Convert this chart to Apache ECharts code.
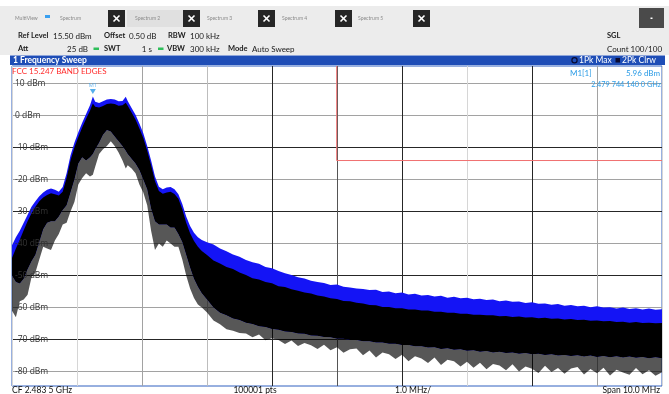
<!DOCTYPE html>
<html>
<head>
<meta charset="utf-8">
<script src="https://cdn.jsdelivr.net/npm/echarts@6/dist/echarts.min.js"></script>
<style>
  html, body { margin: 0; padding: 0; background: #ffffff; }
  #chart { width: 669px; height: 394px; }
</style>
</head>
<body>
<div id="chart"></div>
<script>
// Frequency offset from the centre frequency (2.4835 GHz), in MHz
const offsetMHz = [
  -5.00, -4.94, -4.88, -4.82, -4.76, -4.70, -4.64, -4.58, -4.52, -4.46,
  -4.40, -4.34, -4.28, -4.22, -4.16, -4.10, -4.04, -3.98, -3.92, -3.86,
  -3.80, -3.75586, -3.72, -3.66, -3.60, -3.54, -3.48, -3.42, -3.36, -3.30,
  -3.25, -3.22, -3.16, -3.10, -3.04, -2.98, -2.92, -2.86, -2.80, -2.74,
  -2.68, -2.62, -2.56, -2.50, -2.44, -2.38, -2.32, -2.26, -2.20, -2.14,
  -2.08,
  -2.0, -1.9, -1.8, -1.7, -1.6, -1.5, -1.4, -1.3, -1.2, -1.1,
  -1.0, -0.9, -0.8, -0.7, -0.6, -0.5, -0.4, -0.3, -0.2, -0.1,
  0.0, 0.1, 0.2, 0.3, 0.4, 0.5, 0.6, 0.7, 0.8, 0.9,
  1.0, 1.1, 1.2, 1.3, 1.4, 1.5, 1.6, 1.7, 1.8, 1.9,
  2.0, 2.1, 2.2, 2.3, 2.4, 2.5, 2.6, 2.7, 2.8, 2.9,
  3.0, 3.1, 3.2, 3.3, 3.4, 3.5, 3.6, 3.7, 3.8, 3.9,
  4.0, 4.1, 4.2, 4.3, 4.4, 4.5, 4.6, 4.7, 4.8, 4.9,
  5.0
];

// Trace 1 (1Pk Max): upper edge, dBm
const maxHoldTop = [
  -40.5, -38, -36, -33.5, -31, -28.5, -26.8, -25.2, -24, -23.2,
  -22.8, -23.2, -23.8, -22.3, -18, -12.5, -8.5, -5.2, -2.2, 0.5,
  3.2, 5.96, 4.3, 3.9, 4.5, 5.0, 5.2, 5.0, 4.5, 4.6,
  5.9, 4.6, 2.4, 0.3, -2.5, -5.5, -9.5, -14, -19, -22.2,
  -23, -22.5, -22.3, -23, -24.6, -27.6, -31.5, -34.5, -36.6, -38,
  -38.9,
  -39.6, -40.3, -41.5, -42.4, -43.4, -44.1, -45.1, -45.8, -46.3, -47.3,
  -47.7, -48.6, -49.3, -49.8, -50.5, -50.9, -51.6, -52.0, -52.3, -52.9,
  -52.8, -53.5, -53.7, -54.0, -54.2, -54.5, -54.4, -55.1, -55.0, -55.5,
  -55.3, -55.9, -55.7, -56.2, -56.1, -56.5, -56.3, -56.9, -56.6, -57.1,
  -56.9, -57.4, -57.2, -57.6, -57.5, -58.0, -57.8, -58.2, -58.1, -58.6,
  -58.3, -58.8, -58.7, -59.1, -58.9, -59.4, -59.2, -59.6, -59.4, -59.9,
  -59.6, -60.0, -59.9, -60.3, -60.0, -60.4, -60.2, -60.6, -60.3, -60.7,
  -60.5
];

// Trace 2 (2Pk Clrw): upper edge of the dense sweep, dBm
const clrwTop = [
  -44.5, -41.5, -38.8, -35.8, -33, -30.5, -28.5, -26.8, -25.6, -24.8,
  -24.3, -24.6, -25, -23.8, -19.5, -14, -10, -6.7, -3.7, -1,
  1.5, 3.8, 2.8, 2.5, 3.0, 3.6, 3.8, 3.6, 3.1, 3.2,
  4.0, 3.1, 1.0, -1.2, -4, -7, -11, -15.5, -20.5, -23.6,
  -24.4, -24, -23.8, -24.5, -26, -29.3, -33.5, -36.8, -39.2, -41,
  -42.3,
  -43.6, -45.3, -46.2, -47.3, -47.9, -49.0, -49.8, -50.8, -51.2, -52.0,
  -52.4, -53.3, -53.6, -54.3, -54.7, -55.3, -55.6, -56.2, -56.5, -57.1,
  -57.3, -57.9, -58.0, -58.5, -58.7, -59.2, -59.3, -59.8, -59.8, -60.2,
  -60.2, -60.6, -60.6, -60.9, -60.9, -61.3, -61.3, -61.6, -61.6, -61.9,
  -61.9, -62.2, -62.2, -62.4, -62.4, -62.7, -62.6, -62.9, -62.8, -63.1,
  -63.0, -63.3, -63.2, -63.5, -63.4, -63.7, -63.6, -63.9, -63.8, -64.1,
  -64.0, -64.3, -64.2, -64.5, -64.4, -64.7, -64.5, -64.8, -64.7, -64.9,
  -64.8
];

// Trace 2: lower edge of the solid part of the sweep, dBm
const clrwFloor = [
  -50, -52, -52.5, -51, -48, -45.5, -43.5, -39.5, -35.5, -33.5,
  -33, -33, -31.5, -29.5, -28, -24, -20, -15, -13, -14,
  -13, -12, -10.5, -8.5, -6, -4.5, -5, -6.5, -8, -9.5,
  -11, -12, -13.5, -15, -17, -20, -23, -29, -33, -34,
  -34, -34, -35, -35, -37, -39.5, -43.5, -47.5, -51, -53.5,
  -55.5,
  -57.5, -60, -61.6, -62.4, -63.4, -63.9, -64.7, -65.1, -65.8, -66.1,
  -66.7, -66.9, -67.5, -67.6, -68.1, -68.2, -68.7, -68.8, -69.2, -69.3,
  -69.7, -69.7, -70.1, -70.1, -70.5, -70.5, -70.9, -70.9, -71.3, -71.3,
  -71.7, -71.7, -72.1, -72.1, -72.5, -72.4, -72.9, -72.7, -73.2, -73.0,
  -73.5, -73.3, -73.8, -73.6, -74.0, -73.8, -74.2, -74.0, -74.4, -74.2,
  -74.6, -74.4, -74.8, -74.6, -75.0, -74.8, -75.1, -74.9, -75.3, -75.0,
  -75.4, -75.1, -75.5, -75.2, -75.6, -75.3, -75.7, -75.4, -75.8, -75.5,
  -75.8
];

// Trace 2: deepest noise dips below the solid part, dBm
const clrwDips = [
  -61, -63, -58, -57.5, -56, -50.5, -49, -45, -41, -41.5,
  -42, -39, -37, -34, -33.5, -30, -27, -21.5, -19.5, -18,
  -19, -18.5, -16, -12, -10.5, -9.5, -8, -9.5, -11.5, -14,
  -16.5, -15.5, -16.5, -18, -21.5, -24, -28, -36, -42, -40,
  -41, -39, -40, -41, -41, -45, -50, -54, -57, -59,
  -60,
  -61.5, -64.0, -65.2, -66.8, -67.2, -67.9, -68.1, -69.3, -68.4, -70.2,
  -69.6, -70.1, -71.4, -70.3, -72.0, -71.1, -71.8, -72.9, -71.6, -73.3,
  -72.4, -74.1, -73.0, -72.8, -74.9, -73.4, -75.6, -74.0, -74.6, -76.1,
  -74.7, -76.8, -75.2, -75.9, -77.3, -75.6, -77.9, -76.3, -76.8, -78.4,
  -76.9, -78.8, -77.2, -79.3, -77.6, -78.1, -79.6, -77.7, -80.0, -78.4,
  -79.1, -80.4, -78.2, -80.1, -78.9, -80.7, -79.0, -78.6, -80.9, -79.2,
  -80.5, -78.8, -81.2, -79.4, -80.3, -81.0, -78.9, -80.8, -79.6, -81.3,
  -80.2
];

const yTicks = [-80, -70, -60, -50, -40, -30, -20, -10, 0, 10];
const refLevel = 15.5;       // dBm, top of the display
const displayRange = 100;    // dB, 10 dB/div
const limitLevel = -14.04;   // dBm, band-edge display line
const bandEdge = 0.0;        // MHz offset of 2.4835 GHz
const marker1 = [-3.75586, 5.96];

const DARK = '#262626', MID = '#a2a2a2', LIGHT = '#d6d6d6';
const FONT = 'Lato, "Open Sans", sans-serif';
const AXIS_FONT = '"Open Sans", "Noto Sans", sans-serif';

const chart = echarts.init(document.getElementById('chart'), null, { renderer: 'canvas' });

// Filled band between two edges of a trace, drawn as one polygon
function band(name, upper, lower, fill, z) {
  return {
    name, type: 'custom', coordinateSystem: 'cartesian2d', silent: true, z,
    clip: true,
    data: [[offsetMHz[0], upper[0]]],
    renderItem: (params, api) => {
      const pts = [];
      for (let i = 0; i < offsetMHz.length; i++) pts.push(api.coord([offsetMHz[i], upper[i]]));
      for (let i = offsetMHz.length - 1; i >= 0; i--) pts.push(api.coord([offsetMHz[i], lower[i]]));
      return { type: 'polygon', shape: { points: pts }, style: { fill: fill, stroke: null } };
    }
  };
}

function txt(x, y, text, opt) {
  opt = opt || {};
  const size = opt.size || (opt.bold ? 7.5 : 8);
  return {
    type: 'text', x, y, silent: true, z: 100,
    style: {
      text, fill: opt.color || '#1a1a1a',
      font: (opt.bold ? 'bold ' : '') + size + 'px ' + FONT,
      align: opt.align || 'left', verticalAlign: 'middle'
    }
  };
}
function closeBtn(x) {
  return [
    { type: 'rect', shape: { x: x, y: 10, width: 17, height: 17 }, style: { fill: '#262626' }, silent: true },
    { type: 'line', shape: { x1: x + 5.5, y1: 15.5, x2: x + 11.5, y2: 21.5 }, style: { stroke: '#fff', lineWidth: 1.6 }, silent: true },
    { type: 'line', shape: { x1: x + 11.5, y1: 15.5, x2: x + 5.5, y2: 21.5 }, style: { stroke: '#fff', lineWidth: 1.6 }, silent: true }
  ];
}

const graphics = [
  { type: 'rect', shape: { x: 0, y: 6, width: 669, height: 49 }, style: { fill: '#ececec' }, silent: true, z: -10 },
  { type: 'rect', shape: { x: 127, y: 10, width: 56, height: 17 }, style: { fill: '#e0e0e0' }, silent: true },
  txt(15, 18, 'MultiView', { size: 5, color: '#8a8a8a' }),
  { type: 'rect', shape: { x: 45, y: 15, width: 5, height: 3 }, style: { fill: '#3aa0f0' }, silent: true },
  txt(60, 18, 'Spectrum', { size: 5, color: '#8a8a8a' }),
  txt(135, 18, 'Spectrum 2', { size: 5, color: '#8a8a8a' }),
  txt(207, 18, 'Spectrum 3', { size: 5, color: '#8a8a8a' }),
  txt(282, 18, 'Spectrum 4', { size: 5, color: '#8a8a8a' }),
  txt(358, 18, 'Spectrum 5', { size: 5, color: '#8a8a8a' }),
  ...closeBtn(108), ...closeBtn(183), ...closeBtn(258), ...closeBtn(335), ...closeBtn(413),
  { type: 'rect', shape: { x: 639, y: 8, width: 25, height: 20 }, style: { fill: '#4a4a4a' }, silent: true },
  { type: 'rect', shape: { x: 650.5, y: 17.5, width: 2, height: 1.5 }, style: { fill: '#ffffff' }, silent: true },

  txt(18, 36, 'Ref Level', { bold: true }), txt(53, 36, '15.50 dBm'),
  txt(104, 36, 'Offset', { bold: true }), txt(129, 36, '0.50 dB'),
  txt(168, 36, 'RBW', { bold: true }), txt(190, 36, '100 kHz'),
  txt(18, 49, 'Att', { bold: true }), txt(88, 49, '25 dB', { align: 'right' }),
  { type: 'rect', shape: { x: 93.5, y: 47.5, width: 5.5, height: 2.5 }, style: { fill: '#2fbf5a' }, silent: true },
  txt(104, 49, 'SWT', { bold: true }), txt(152, 49, '1 s', { align: 'right' }),
  { type: 'rect', shape: { x: 158, y: 47.5, width: 5.5, height: 2.5 }, style: { fill: '#2fbf5a' }, silent: true },
  txt(167, 49, 'VBW', { bold: true }), txt(190, 49, '300 kHz'),
  txt(228, 49, 'Mode', { bold: true }), txt(252, 49, 'Auto Sweep'),
  txt(607, 36, 'SGL', { bold: true }),
  txt(607, 49, 'Count 100/100'),

  { type: 'rect', shape: { x: 10, y: 55.5, width: 655, height: 9.5 }, style: { fill: '#1e4db6' }, silent: true },
  txt(13, 60, '1 Frequency Sweep', { bold: true, size: 8.5, color: '#ffffff' }),
  { type: 'circle', shape: { cx: 574.5, cy: 60.3, r: 2.6 }, style: { fill: '#1e4db6', stroke: '#0a0a30', lineWidth: 1.2 }, silent: true },
  txt(579, 60.3, '1Pk Max', { size: 8.5, color: '#ffffff' }),
  { type: 'rect', shape: { x: 615.5, y: 58, width: 4.5, height: 4.5 }, style: { fill: '#0a0a30' }, silent: true },
  txt(622, 60.3, '2Pk Clrw', { size: 8.5, color: '#ffffff' }),

  txt(12, 71, 'FCC 15.247 BAND EDGES', { color: '#ff2d2d', size: 8 }),
  txt(570, 73, 'M1[1]', { color: '#2a9be6' }),
  txt(660, 73, '5.96 dBm', { color: '#2a9be6', align: 'right' }),
  txt(661, 85, '2.479 744 140 0 GHz', { color: '#2a9be6', align: 'right', size: 7.3 }),

  txt(12, 390, 'CF 2.483 5 GHz', { color: '#111', size: 8.5 }),
  txt(255, 390, '100001 pts', { color: '#111', align: 'center', size: 8.5 }),
  txt(413, 390, '1.0 MHz/', { color: '#111', align: 'center', size: 8.5 }),
  txt(660, 390, 'Span 10.0 MHz', { color: '#111', align: 'right', size: 8.5 })
];

const option = {
  backgroundColor: '#ffffff',
  animation: false,
  grid: { left: 12, right: 7, top: 66, bottom: 8, show: true, borderColor: '#3060c0', borderWidth: 1, backgroundColor: 'transparent' },
  xAxis: {
    type: 'value', min: -5, max: 5, interval: 1,
    axisLine: { show: false }, axisTick: { show: false }, axisLabel: { show: false },
    splitLine: { show: true, lineStyle: { width: 1, color: [LIGHT, LIGHT, MID, '#bdbdbd', DARK, '#555', DARK, LIGHT, DARK, MID, LIGHT] } }
  },
  yAxis: [
    {
      // grid lines, drawn beneath the traces
      type: 'value', min: refLevel - displayRange, max: refLevel,
      axisLine: { show: false },
      axisTick: { show: false, customValues: yTicks },
      axisLabel: { show: false, customValues: yTicks },
      splitLine: { show: true, lineStyle: { width: 1, color: [MID, DARK, MID, DARK, MID, DARK, MID, DARK, MID, MID] } }
    },
    {
      // level labels, drawn over the traces
      type: 'value', min: refLevel - displayRange, max: refLevel, position: 'left', z: 20,
      axisLine: { show: false },
      axisTick: { show: false, customValues: yTicks },
      axisLabel: {
        show: true, inside: true, margin: 3, customValues: yTicks,
        fontSize: 8.5, fontFamily: AXIS_FONT, color: '#333',
        formatter: v => v + ' dBm'
      },
      splitLine: { show: false }
    }
  ],
  series: [
    band('1Pk Max', maxHoldTop, clrwFloor, '#1414f5', 2),
    band('2Pk Clrw dips', clrwFloor, clrwDips, 'rgba(0,0,0,0.66)', 3),
    band('2Pk Clrw', clrwTop, clrwFloor, '#000000', 4),
    {
      name: 'Display line', type: 'line', z: 5, silent: true, symbol: 'none',
      lineStyle: { color: '#f07070', width: 1 },
      data: [[bandEdge - 0.005, refLevel], [bandEdge - 0.005, limitLevel], [5, limitLevel]]
    },
    {
      name: 'M1', type: 'scatter', z: 6, silent: true,
      symbol: 'triangle', symbolRotate: 180, symbolSize: [6, 5], symbolOffset: [0, -5],
      itemStyle: { color: '#2a9be6' },
      label: { show: true, position: 'top', distance: 1, formatter: 'M1', fontSize: 6, fontFamily: AXIS_FONT, color: '#4aa8ee' },
      data: [marker1]
    }
  ],
  graphic: graphics
};

chart.setOption(option);
</script>
</body>
</html>
